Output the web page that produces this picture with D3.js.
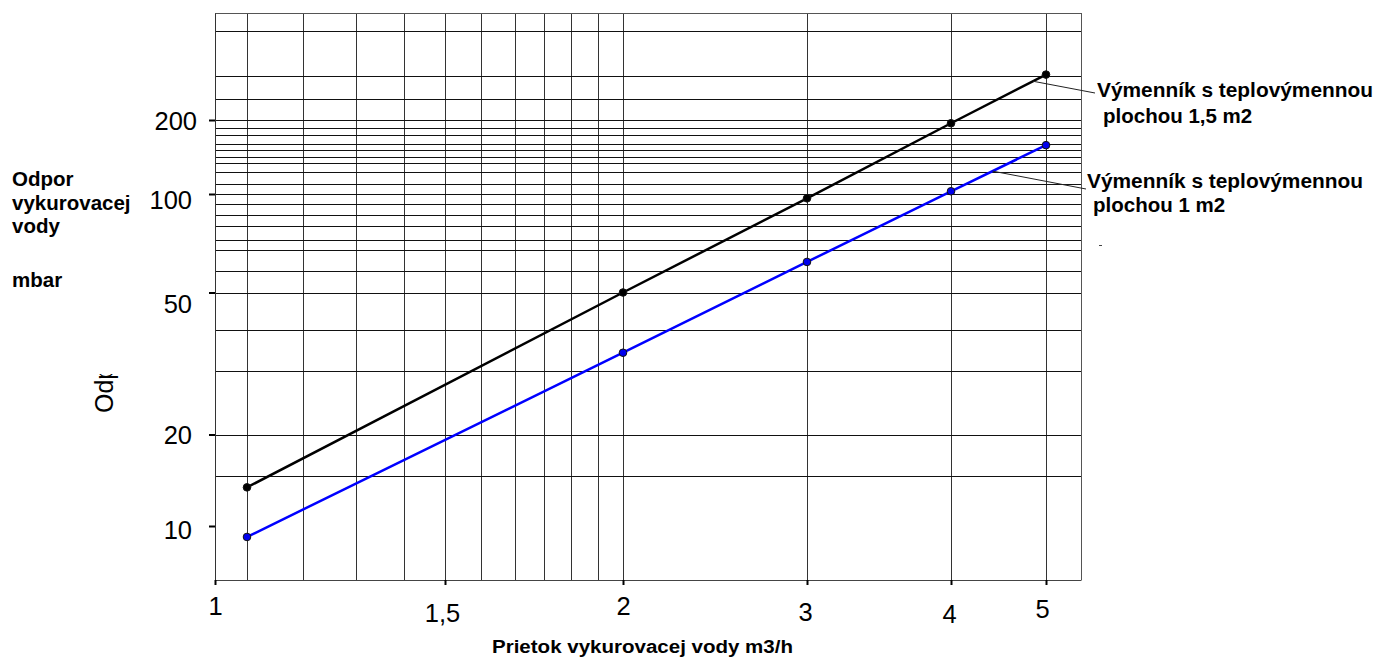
<!DOCTYPE html>
<html>
<head>
<meta charset="utf-8">
<script src="https://cdn.jsdelivr.net/npm/d3@7"></script>
<style>
  body { margin: 0; background: #fff; }
  svg { display: block; }
</style>
</head>
<body>
<svg id="chart"></svg>
<script>
// flow (m3/h) and pressure drop (mbar)
const flow = [1.1, 2, 3, 4, 5];
const drop15 = [13.4, 50, 97, 194, 306];
const drop10 = [9.2, 33.9, 62, 102.6, 158];

const xTicks = [1, 1.5, 2, 3, 4, 5];
const xTickLabels = ["1", "1,5", "2", "3", "4", "5"];
const yTicks = [10, 20, 50, 100, 200];

// the paper grid is not a clean log grid
const xGrid = [1.1, 1.2, 1.305, 1.407, 1.5, 1.59, 1.68, 1.76, 1.84, 1.92, 2, 3, 4, 5];
const yGrid = [14.6, 20, 30.1, 39.2, 50, 58, 67.3, 72.3, 79.7, 86.2, 93.2, 100,
  109.8, 122.9, 133.7, 141.5, 151, 159.7, 173.8, 185.6, 200, 243.5, 302, 460];

const seriesNames = ["Výmenník s teplovýmennou", "Výmenník s teplovýmennou"];
const seriesSub = ["plochou 1,5 m2", "plochou 1 m2"];

const width = 1382, height = 660;
const svg = d3.select("#chart").attr("width", width).attr("height", height);
svg.append("rect").attr("width", width).attr("height", height).attr("fill", "#fff");

// the printed axes are stretched unevenly, so use piecewise log scales
const x = d3.scaleLog()
  .domain([1, 1.1, 1.5, 2, 3, 4, 5, 5.43])
  .range([215, 247, 445, 623, 807, 951, 1046, 1081]);
const y = d3.scaleLog()
  .domain([6.63, 10, 20, 50, 100, 200, 545])
  .range([580, 526, 434.5, 292.5, 194, 120, 13]);

const [x0, x1] = [x(1), x(5.43)];
const [y0, y1] = [y(6.63), y(545)];

const grid = svg.append("g").attr("shape-rendering", "crispEdges");
grid.selectAll("line.v").data(xGrid).enter().append("line")
  .attr("class", "v")
  .attr("x1", d => Math.round(x(d)) + 0.5).attr("x2", d => Math.round(x(d)) + 0.5)
  .attr("y1", y1).attr("y2", y0)
  .attr("stroke", "#333").attr("stroke-width", 1);
grid.selectAll("line.h").data(yGrid).enter().append("line")
  .attr("class", "h")
  .attr("x1", x0).attr("x2", x1)
  .attr("y1", d => Math.round(y(d)) + 0.5).attr("y2", d => Math.round(y(d)) + 0.5)
  .attr("stroke", "#111").attr("stroke-width", 1);

// top and right border
grid.append("line").attr("x1", x0).attr("x2", x1).attr("y1", y1 + 0.5).attr("y2", y1 + 0.5)
  .attr("stroke", "#555");
grid.append("line").attr("x1", x1 + 0.5).attr("x2", x1 + 0.5).attr("y1", y1).attr("y2", y0)
  .attr("stroke", "#555");

const sans = "'Liberation Sans', Arial, sans-serif";

// axes
const yNudge = {10: [-23, 12], 20: [-23, 9], 50: [-23, 20], 100: [-23, 14.5], 200: [-18, 9]};
const yAxis = svg.append("g")
  .attr("transform", `translate(${x0},0)`)
  .call(d3.axisLeft(y).tickValues(yTicks).tickSize(6).tickSizeOuter(0).tickFormat(d3.format("d")));
yAxis.select(".domain").attr("stroke", "#333");
yAxis.selectAll(".tick line").attr("stroke", "#000").attr("stroke-width", 2);
yAxis.selectAll(".tick text")
  .attr("font-family", sans)
  .attr("font-size", 25.5).attr("fill", "#000")
  .attr("dy", 0)
  .attr("x", d => yNudge[d][0])
  .attr("y", d => yNudge[d][1]);

const xNudge = {1: [0, 35], 1.5: [-3, 42], 2: [0, 35], 3: [-2, 41], 4: [-2, 43], 5: [-4, 38]};
const xAxis = svg.append("g")
  .attr("transform", `translate(0,${y0})`)
  .call(d3.axisBottom(x).tickValues(xTicks).tickSize(5).tickSizeOuter(0)
    .tickFormat((d, i) => xTickLabels[i]));
xAxis.select(".domain").attr("stroke", "#444");
xAxis.selectAll(".tick line").attr("stroke", "#000").attr("stroke-width", 2);
xAxis.selectAll(".tick text")
  .attr("font-family", sans)
  .attr("font-size", 25.5).attr("fill", "#000")
  .attr("dy", 0)
  .attr("x", d => xNudge[d][0])
  .attr("y", d => xNudge[d][1]);

// series
const series = [
  {values: drop15, color: "#000", dot: "#000"},
  {values: drop10, color: "#0000ff", dot: "#0000ee"}
];
const line = d3.line().x(d => x(d[0])).y(d => y(d[1]));
series.forEach(s => {
  const pts = flow.map((f, i) => [f, s.values[i]]);
  svg.append("path").datum(pts)
    .attr("d", line).attr("fill", "none")
    .attr("stroke", s.color).attr("stroke-width", 2.5);
  svg.append("g").selectAll("circle").data(pts).enter().append("circle")
    .attr("cx", d => x(d[0])).attr("cy", d => y(d[1])).attr("r", 3.8)
    .attr("fill", s.dot).attr("stroke", "#111").attr("stroke-width", 1);
});

// leader lines from the curves to the labels
function onSeries(values, f) {
  const xa = x(flow[3]), xb = x(flow[4]);
  const ya = y(values[3]), yb = y(values[4]);
  const px = x(f);
  return [px, ya + (yb - ya) * (px - xa) / (xb - xa)];
}
const leaders = [
  {from: onSeries(drop15, 4.85), to: [1095, 93]},
  {from: onSeries(drop10, 4.41), to: [1086, 189]}
];
svg.selectAll("line.leader").data(leaders).enter().append("line")
  .attr("class", "leader")
  .attr("x1", d => d.from[0]).attr("y1", d => d.from[1])
  .attr("x2", d => d.to[0]).attr("y2", d => d.to[1])
  .attr("stroke", "#222").attr("stroke-width", 1);

const labelPos = [
  {x: 1097, y: 97, sx: 1103, sy: 123},
  {x: 1087, y: 188, sx: 1093, sy: 212}
];
labelPos.forEach((p, i) => {
  svg.append("text").attr("x", p.x).attr("y", p.y)
    .attr("font-family", sans).attr("font-weight", "bold").attr("font-size", 20)
    .attr("textLength", 276).attr("lengthAdjust", "spacingAndGlyphs")
    .text(seriesNames[i]);
  svg.append("text").attr("x", p.sx).attr("y", p.sy)
    .attr("font-family", sans).attr("font-weight", "bold").attr("font-size", 20.5)
    .text(seriesSub[i]);
});
svg.append("line").attr("x1", 1099).attr("x2", 1102).attr("y1", 245.5).attr("y2", 245.5)
  .attr("stroke", "#444");

// y title
const yTitle = svg.append("text")
  .attr("font-family", sans).attr("font-weight", "bold").attr("font-size", 20.5);
[["Odpor", 186], ["vykurovacej", 210], ["vody", 233], ["mbar", 287]].forEach(([t, ty]) => {
  yTitle.append("tspan").attr("x", 12).attr("y", ty).text(t);
});

// clipped vertical label fragment
svg.append("clipPath").attr("id", "odclip")
  .append("rect").attr("x", 80).attr("y", 374).attr("width", 50).attr("height", 50);
svg.append("g").attr("clip-path", "url(#odclip)")
  .append("text")
  .attr("transform", "translate(113,413) rotate(-90)")
  .attr("font-family", sans)
  .attr("font-size", 25)
  .text("Odpor");

// x title
svg.append("text")
  .attr("x", 492).attr("y", 653)
  .attr("font-family", sans).attr("font-weight", "bold").attr("font-size", 18)
  .attr("textLength", 301).attr("lengthAdjust", "spacingAndGlyphs")
  .text("Prietok vykurovacej vody m3/h");
</script>
</body>
</html>
